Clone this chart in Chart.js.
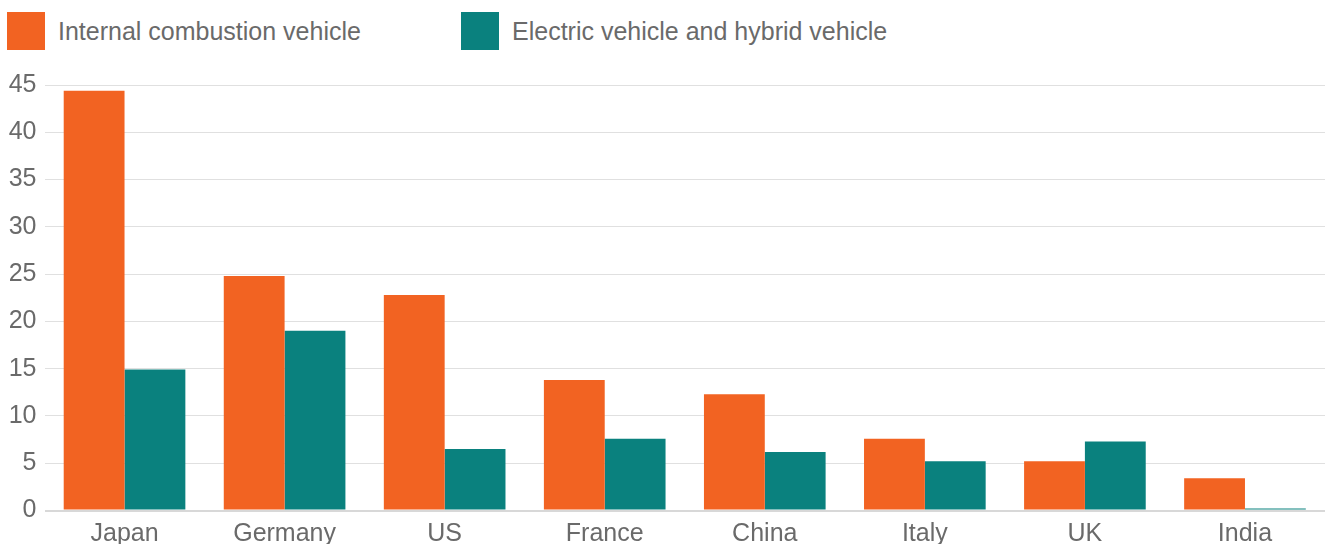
<!DOCTYPE html>
<html>
<head>
<meta charset="utf-8">
<script src="https://cdn.jsdelivr.net/npm/chart.js@4"></script>
<style>
  html, body { margin: 0; padding: 0; background: #fff; overflow: hidden; }
  body { width: 1325px; height: 544px; position: relative; font-family: "Liberation Sans", Arial, sans-serif; }
  .legend { position: absolute; top: 12px; left: 0; }
  .item { position: absolute; top: 0; white-space: nowrap; }
  .box { position: absolute; top: 0; width: 38px; height: 38px; }
  .lbl { position: absolute; top: 5px; font-size: 25px; color: #6a6a6a; }
  .wrap { position: absolute; left: 0; top: 0; width: 1325px; height: 560px; }
</style>
</head>
<body>
<div class="legend">
  <div class="item" style="left:7px"><div class="box" style="background:#f26322"></div><div class="lbl" style="left:51px">Internal combustion vehicle</div></div>
  <div class="item" style="left:461px"><div class="box" style="background:#0a817e"></div><div class="lbl" style="left:51px">Electric vehicle and hybrid vehicle</div></div>
</div>
<div class="wrap"><canvas id="chart"></canvas></div>
<script>
const countries = ['Japan', 'Germany', 'US', 'France', 'China', 'Italy', 'UK', 'India'];
const combustion = [44.4, 24.8, 22.8, 13.8, 12.3, 7.6, 5.2, 3.4];
const electric = [14.9, 19.0, 6.5, 7.6, 6.2, 5.2, 7.3, 0.2];

const textColor = '#6a6a6a';
const font = { family: '"Liberation Sans", Arial, sans-serif', size: 25 };

let ctx = document.getElementById('chart').getContext('2d');

let chart = new Chart(ctx, {
    type: 'bar',
    data: {
        labels: countries,
        datasets: [{
            label: 'Internal combustion vehicle',
            data: combustion,
            backgroundColor: '#f26322'
        }, {
            label: 'Electric vehicle and hybrid vehicle',
            data: electric,
            backgroundColor: '#0a817e'
        }]
    },
    options: {
        responsive: true,
        maintainAspectRatio: false,
        animation: false,
        layout: { padding: { top: 85, right: 0, left: 0, bottom: 1.5 } },
        plugins: {
            legend: { display: false },
            tooltip: { enabled: false }
        },
        datasets: {
            bar: { categoryPercentage: 0.76, barPercentage: 1.0 }
        },
        scales: {
            x: {
                grid: { display: false, drawTicks: false },
                border: { display: false },
                ticks: { color: textColor, font: font, padding: 9 }
            },
            y: {
                min: 0,
                max: 45,
                afterFit: (scale) => { scale.width = 44.5; },
                grid: {
                    color: (c) => c.tick.value === 0 ? '#d8d8d8' : '#e0e0e0',
                    lineWidth: (c) => c.tick.value === 0 ? 2 : 1,
                    drawTicks: false
                },
                border: { display: false },
                ticks: { stepSize: 5, color: textColor, font: font, padding: 8 }
            }
        }
    }
});
</script>
</body>
</html>
